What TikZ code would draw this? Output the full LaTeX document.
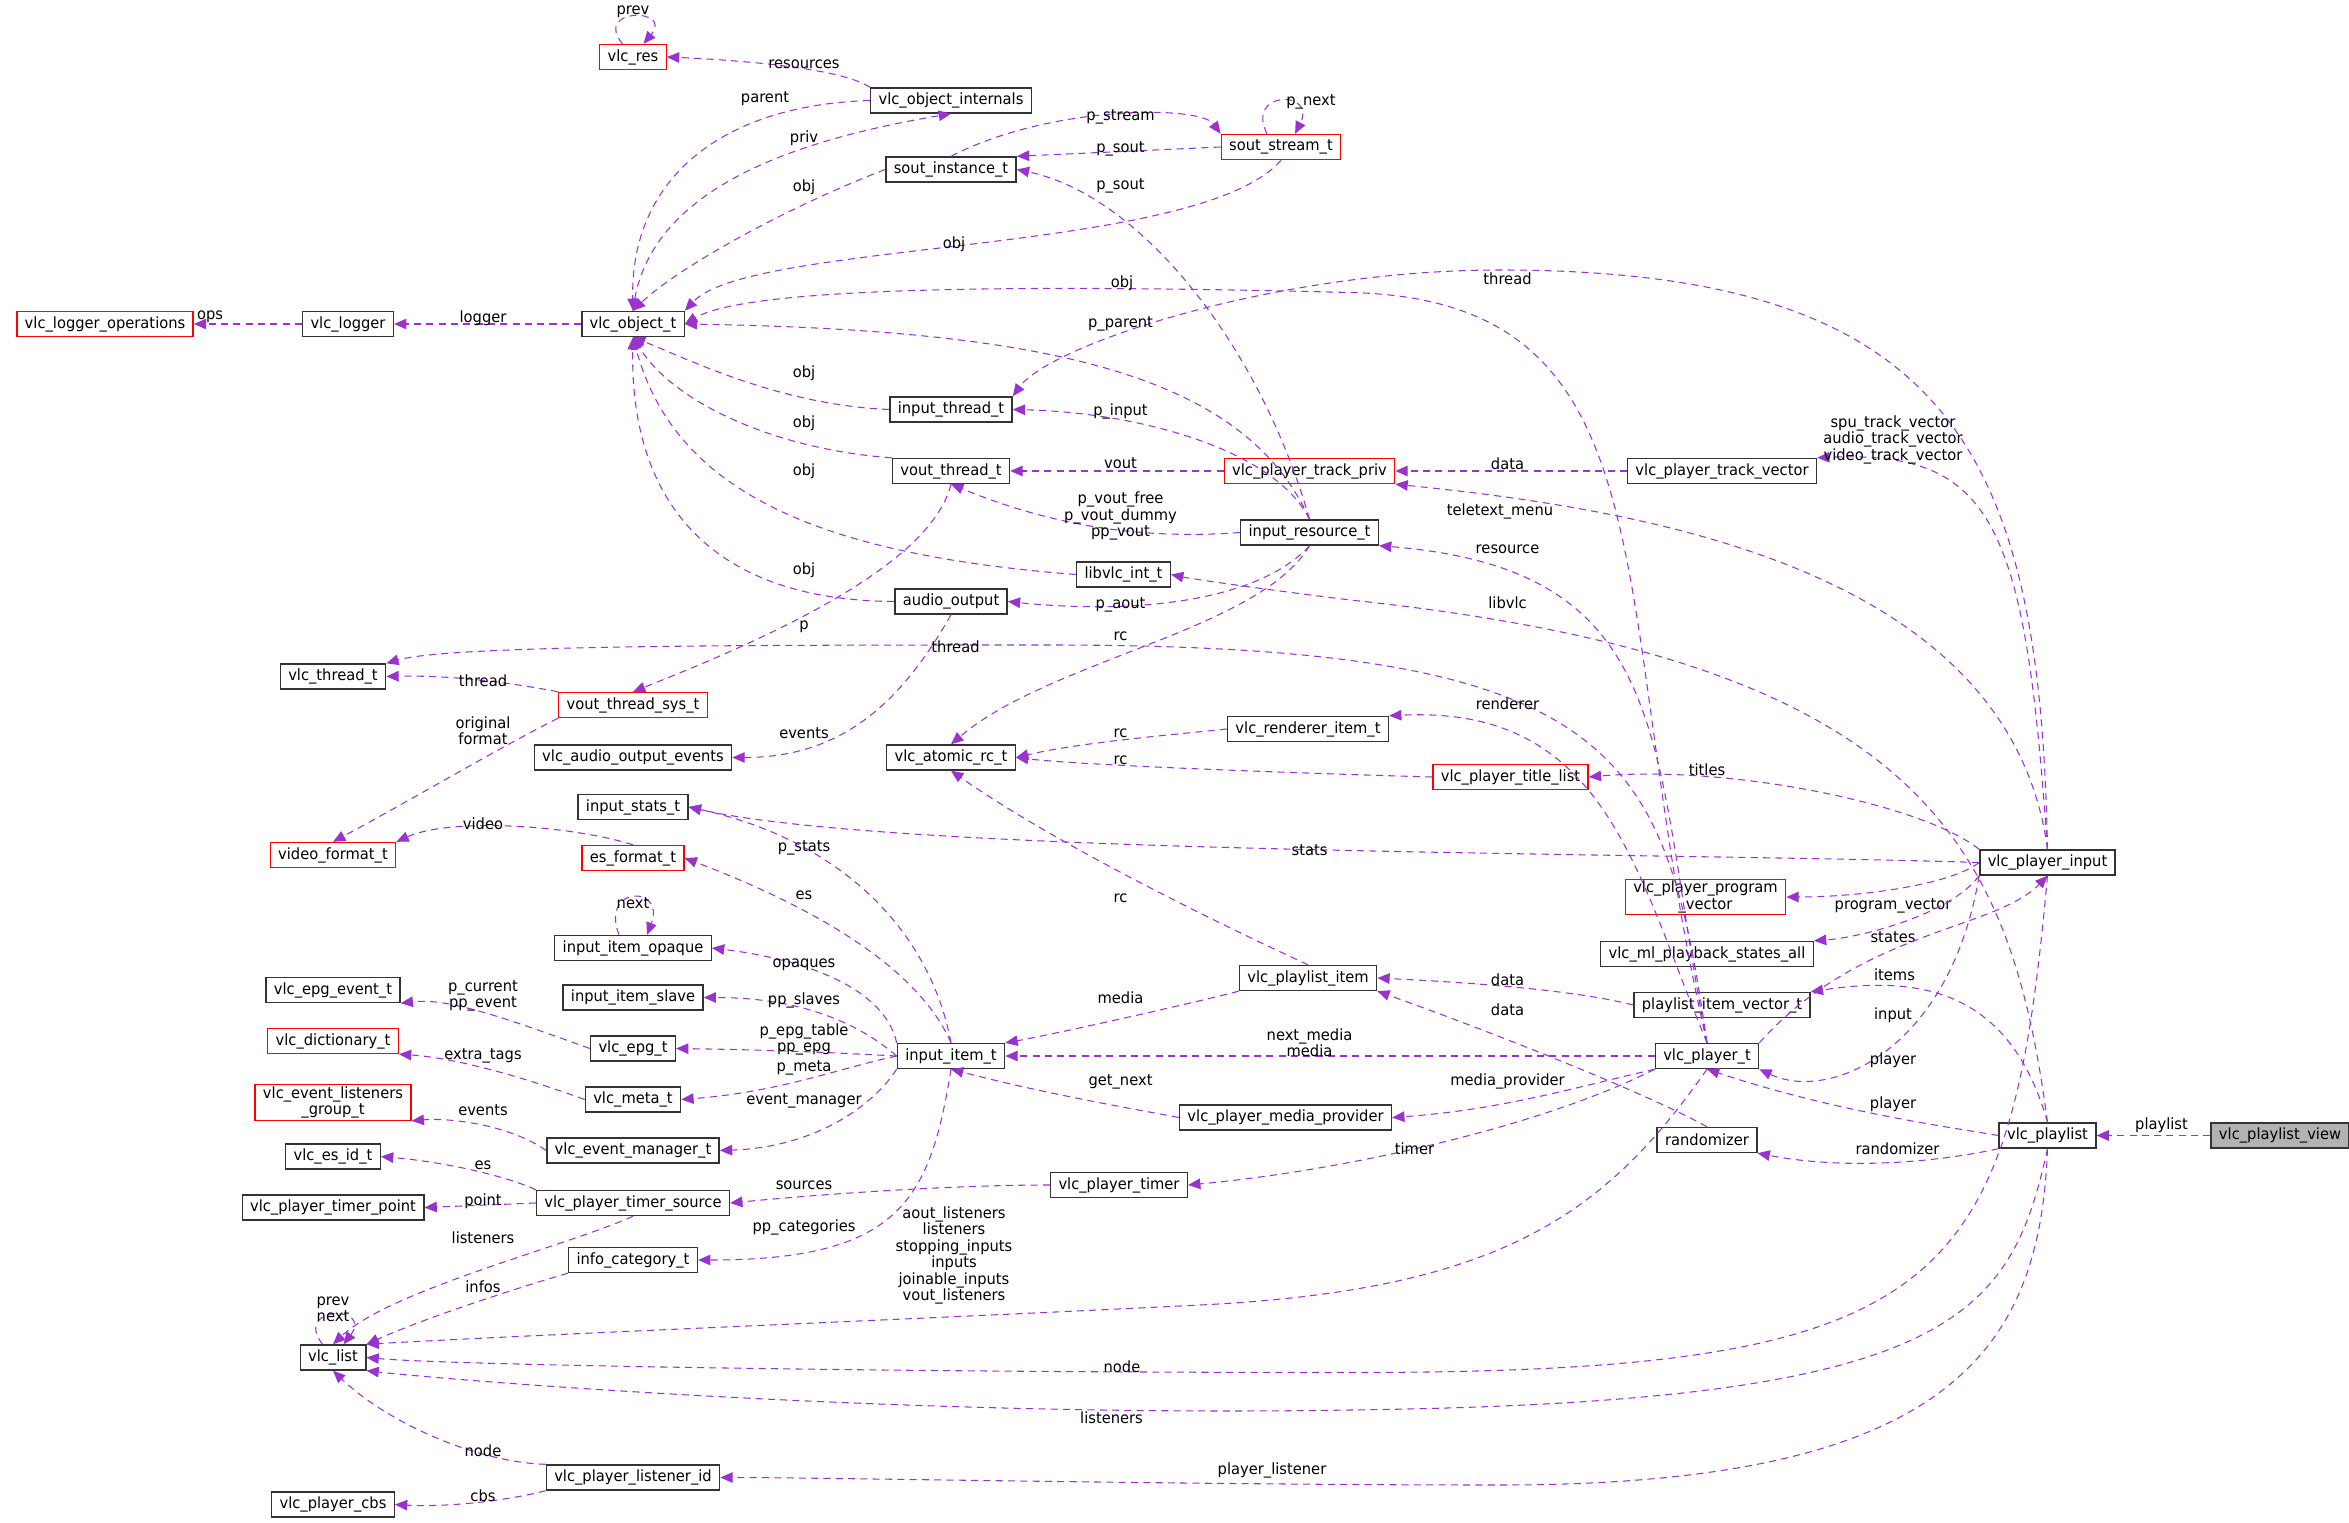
\documentclass[tikz,border=0pt]{standalone}
\usepackage{fontspec}
\setmainfont{DejaVu Sans}[FakeStretch=0.95]
\usetikzlibrary{arrows.meta}
\definecolor{edgecol}{HTML}{9A32CD}

\tikzset{
  cls/.style={rectangle, draw=black!80, fill=white, line width=0.8pt, minimum height=0.5cm, inner xsep=4.5pt, inner ysep=1pt, font=\fontsize{8.8}{9.4}\selectfont, align=center},
  redcls/.style={cls, draw=red},
  rootcls/.style={cls, fill=black!30},
  dep/.style={draw=edgecol, dashed, line width=0.6pt, dash pattern=on 4pt off 3pt, -{Triangle[length=7pt,width=6pt]}},
  lbl/.style={font=\fontsize{8.8}{9.4}\selectfont, align=center, inner sep=0pt}
}

\begin{document}
\begin{tikzpicture}[x=0.03cm, y=-0.03cm]
\useasboundingbox (0,0) rectangle (1566,1015);

% classes, right side
\node[rootcls] (view)    at (1520,757) {vlc\_playlist\_view};
\node[cls]     (plist)   at (1365,757) {vlc\_playlist};
\node[cls]     (pinput)  at (1365,575) {vlc\_player\_input};
\node[cls]     (player)  at (1138,704) {vlc\_player\_t};
\node[cls]     (rand)    at (1138,760) {randomizer};
\node[cls]     (itemvec) at (1148,670) {playlist\_item\_vector\_t};
\node[cls]     (states)  at (1138,636) {vlc\_ml\_playback\_states\_all};
\node[redcls]  (progvec) at (1137,598) {vlc\_player\_program\\\_vector};
\node[redcls]  (titles)  at (1007,518) {vlc\_player\_title\_list};
\node[cls]     (trackvec) at (1148,314) {vlc\_player\_track\_vector};

% middle
\node[redcls]  (trackpriv) at (873,314) {vlc\_player\_track\_priv};
\node[cls]     (inres)   at (873,355) {input\_resource\_t};
\node[cls]     (libvlc)  at (749,383) {libvlc\_int\_t};
\node[cls]     (rend)    at (872,486) {vlc\_renderer\_item\_t};
\node[cls]     (plitem)  at (872,652) {vlc\_playlist\_item};
\node[cls]     (mprov)   at (857,745) {vlc\_player\_media\_provider};
\node[cls]     (ptimer)  at (746,790) {vlc\_player\_timer};
\node[cls]     (item)    at (634,704) {input\_item\_t};
\node[cls]     (rc)      at (634,505) {vlc\_atomic\_rc\_t};
\node[cls]     (aout)    at (634,401) {audio\_output};
\node[cls]     (vout)    at (634,314) {vout\_thread\_t};
\node[cls]     (ithread) at (634,273) {input\_thread\_t};
\node[cls]     (sout)    at (634,113) {sout\_instance\_t};
\node[redcls]  (sstream) at (854,98)  {sout\_stream\_t};
\node[cls]     (internals) at (634,67) {vlc\_object\_internals};
\node[redcls]  (res)     at (422,38)  {vlc\_res};
\node[cls]     (object)  at (422,216) {vlc\_object\_t};

% left side
\node[cls]     (logger)  at (232,216) {vlc\_logger};
\node[redcls]  (logops)  at (70,216)  {vlc\_logger\_operations};
\node[cls]     (thread)  at (222,451) {vlc\_thread\_t};
\node[redcls]  (voutsys) at (422,470) {vout\_thread\_sys\_t};
\node[cls]     (aoutev)  at (422,505) {vlc\_audio\_output\_events};
\node[redcls]  (vfmt)    at (222,570) {video\_format\_t};
\node[cls]     (stats)   at (422,538) {input\_stats\_t};
\node[redcls]  (esfmt)   at (422,572) {es\_format\_t};
\node[cls]     (opaque)  at (422,632) {input\_item\_opaque};
\node[cls]     (slave)   at (422,665) {input\_item\_slave};
\node[cls]     (epg)     at (422,699) {vlc\_epg\_t};
\node[cls]     (meta)    at (422,733) {vlc\_meta\_t};
\node[cls]     (evman)   at (422,767) {vlc\_event\_manager\_t};
\node[cls]     (epgev)   at (222,660) {vlc\_epg\_event\_t};
\node[redcls]  (dict)    at (222,694) {vlc\_dictionary\_t};
\node[redcls]  (evgroup) at (222,735) {vlc\_event\_listeners\\\_group\_t};
\node[cls]     (esid)    at (222,771) {vlc\_es\_id\_t};
\node[cls]     (tpoint)  at (222,805) {vlc\_player\_timer\_point};
\node[cls]     (tsource) at (422,802) {vlc\_player\_timer\_source};
\node[cls]     (infocat) at (422,840) {info\_category\_t};
\node[cls]     (list)    at (222,905) {vlc\_list};
\node[cls]     (lid)     at (422,985) {vlc\_player\_listener\_id};
\node[cls]     (cbs)     at (222,1003) {vlc\_player\_cbs};

% members of vlc_playlist_view / vlc_playlist
\draw[dep] (view) -- (plist) node[lbl] at (1441,750) {playlist};
\draw[dep] (plist.south west) .. controls (1290,775) and (1230,780) .. (rand.south east) node[lbl] at (1265,766) {randomizer};
\draw[dep] (plist.west) .. controls (1290,750) and (1220,740) .. (player.south) node[lbl] at (1262,736) {player};
\draw[dep] (plist.north) .. controls (1340,660) and (1280,650) .. (itemvec.north east) node[lbl] at (1263,650) {items};
\draw[dep] (plist.south) .. controls (1340,880) and (1300,935) .. (900,940) .. controls (600,945) and (300,920) .. (list.south east) node[lbl] at (741,945) {listeners};
\draw[dep] (plist.south) .. controls (1360,900) and (1300,990) .. (1000,990) .. controls (800,990) and (550,985) .. (lid.east) node[lbl] at (848,980) {player\_listener};
\draw[dep] (plist.north) .. controls (1340,560) and (1280,440) .. (900,400) .. controls (820,390) and (790,385) .. (libvlc.east) node[lbl] at (1005,402) {libvlc};

% members of vlc_player_input
\draw[dep] (pinput.south west) .. controls (1300,700) and (1220,735) .. (player.south east) node[lbl] at (1262,707) {player};
\draw[dep] (pinput.north) .. controls (1350,350) and (1330,300) .. (trackvec.north east) node[lbl] at (1262,293) {spu\_track\_vector\\audio\_track\_vector\\video\_track\_vector};
\draw[dep] (pinput.north) .. controls (1340,380) and (1100,340) .. (trackpriv.south east) node[lbl] at (1000,341) {teletext\_menu};
\draw[dep] (pinput.north west) .. controls (1280,535) and (1150,510) .. (titles.east) node[lbl] at (1138,513) {titles};
\draw[dep] (pinput.west) .. controls (1300,590) and (1240,598) .. (progvec.east) node[lbl] at (1262,604) {program\_vector};
\draw[dep] (pinput.south west) .. controls (1300,610) and (1240,625) .. (states.north east) node[lbl] at (1262,625) {states};
\draw[dep] (pinput.west) .. controls (1100,568) and (600,570) .. (stats.east) node[lbl] at (873,567) {stats};
\draw[dep] (pinput.north) .. controls (1360,300) and (1300,180) .. (1000,180) .. controls (850,180) and (700,230) .. (ithread.north east) node[lbl] at (1005,186) {thread};
\draw[dep] (pinput.south) .. controls (1340,860) and (1300,915) .. (900,915) .. controls (600,915) and (300,910) .. (list.east) node[lbl] at (748,911) {node};

% members of vlc_player_t
\draw[dep] (player.north east) .. controls (1240,620) and (1330,620) .. (pinput.south) node[lbl] at (1262,677) {input};
\draw[dep] (player.north) .. controls (1070,400) and (1120,200) .. (900,195) .. controls (700,190) and (500,190) .. (object.east) node[lbl] at (748,189) {obj};
\draw[dep] (player.north) .. controls (1100,500) and (1120,380) .. (inres.south east) node[lbl] at (1005,366) {resource};
\draw[dep] (player.north) .. controls (1110,500) and (1080,430) .. (700,430) .. controls (500,430) and (300,430) .. (thread.north east) node[lbl] at (637,431) {thread};
\draw[dep] (player.north) .. controls (1090,580) and (1070,470) .. (rend.north east) node[lbl] at (1005,469) {renderer};
\draw[dep] (player.west) -- (item.east) node[lbl] at (873,695) {next\_media\\media};
\draw[dep] (player.south west) .. controls (1050,725) and (1000,740) .. (mprov.east) node[lbl] at (1005,721) {media\_provider};
\draw[dep] (player.south west) .. controls (1030,750) and (900,780) .. (ptimer.east) node[lbl] at (943,766) {timer};
\draw[dep] (player.south) .. controls (1070,810) and (1000,860) .. (800,870) .. controls (600,880) and (350,890) .. (list.north east) node[lbl] at (636,837) {aout\_listeners\\listeners\\stopping\_inputs\\inputs\\joinable\_inputs\\vout\_listeners};

% vector / priv / resource
\draw[dep] (itemvec.west) .. controls (1050,660) and (980,655) .. (plitem.east) node[lbl] at (1005,653) {data};
\draw[dep] (rand.north) .. controls (1100,730) and (1000,690) .. (plitem.south east) node[lbl] at (1005,673) {data};
\draw[dep] (trackvec) -- (trackpriv) node[lbl] at (1005,309) {data};
\draw[dep] (trackpriv) -- (vout) node[lbl] at (747,309) {vout};
\draw[dep] (inres.north) .. controls (830,250) and (700,220) .. (object.east) node[lbl] at (747,216) {p\_parent};
\draw[dep] (inres.north) .. controls (850,300) and (760,275) .. (ithread.east) node[lbl] at (747,274) {p\_input};
\draw[dep] (inres.west) .. controls (760,360) and (700,350) .. (vout.south) node[lbl] at (747,344) {p\_vout\_free\\p\_vout\_dummy\\pp\_vout};
\draw[dep] (inres.south) .. controls (840,400) and (760,410) .. (aout.east) node[lbl] at (747,403) {p\_aout};
\draw[dep] (inres.north) .. controls (840,230) and (760,130) .. (sout.east) node[lbl] at (747,124) {p\_sout};
\draw[dep] (inres.south) .. controls (840,420) and (700,440) .. (rc.north) node[lbl] at (747,424) {rc};
\draw[dep] (rend.west) .. controls (780,490) and (720,495) .. (rc.east) node[lbl] at (747,489) {rc};
\draw[dep] (titles.west) .. controls (850,515) and (720,510) .. (rc.east) node[lbl] at (747,507) {rc};
\draw[dep] (plitem.north) .. controls (800,610) and (700,560) .. (rc.south) node[lbl] at (747,599) {rc};
\draw[dep] (plitem.south west) .. controls (790,670) and (700,690) .. (item.north east) node[lbl] at (747,665) {media};
\draw[dep] (mprov.west) .. controls (760,740) and (700,730) .. (item.south) node[lbl] at (747,721) {get\_next};
\draw[dep] (ptimer.west) .. controls (640,790) and (560,795) .. (tsource.east) node[lbl] at (536,790) {sources};

% members of input_item_t
\draw[dep] (item.north) .. controls (620,620) and (560,560) .. (stats.east) node[lbl] at (536,565) {p\_stats};
\draw[dep] (item.north) .. controls (610,640) and (530,600) .. (esfmt.east) node[lbl] at (536,597) {es};
\draw[dep] (item.north west) .. controls (590,660) and (540,640) .. (opaque.east) node[lbl] at (536,643) {opaques};
\draw[dep] (item.west) .. controls (570,680) and (530,665) .. (slave.east) node[lbl] at (536,667) {pp\_slaves};
\draw[dep] (item.west) .. controls (560,702) and (520,700) .. (epg.east) node[lbl] at (536,693) {p\_epg\_table\\pp\_epg};
\draw[dep] (item.west) .. controls (560,712) and (520,728) .. (meta.east) node[lbl] at (536,712) {p\_meta};
\draw[dep] (item.south west) .. controls (580,740) and (540,765) .. (evman.east) node[lbl] at (536,734) {event\_manager};
\draw[dep] (item.south) .. controls (620,800) and (600,840) .. (infocat.east) node[lbl] at (536,818) {pp\_categories};
\draw[dep] ([xshift=-8pt]opaque.north) .. controls (400,590) and (444,590) .. ([xshift=8pt]opaque.north) node[lbl] at (422,602) {next};

% left column members
\draw[dep] (epg.west) .. controls (340,680) and (300,665) .. (epgev.south east) node[lbl] at (322,664) {p\_current\\pp\_event};
\draw[dep] (meta.west) .. controls (340,715) and (300,705) .. (dict.south east) node[lbl] at (322,704) {extra\_tags};
\draw[dep] (evman.west) .. controls (340,750) and (300,745) .. (evgroup.south east) node[lbl] at (322,740) {events};
\draw[dep] (tsource.north west) .. controls (340,785) and (300,775) .. (esid.east) node[lbl] at (322,777) {es};
\draw[dep] (tsource.west) -- (tpoint.east) node[lbl] at (322,801) {point};
\draw[dep] (tsource.south) .. controls (380,830) and (260,860) .. (list.north) node[lbl] at (322,825) {listeners};
\draw[dep] (infocat.south west) .. controls (340,860) and (280,880) .. (list.north east) node[lbl] at (322,858) {infos};
\draw[dep] ([xshift=-6pt]list.north) .. controls (195,870) and (249,870) .. ([xshift=6pt]list.north) node[lbl] at (222,873) {prev\\next};
\draw[dep] (lid.north west) .. controls (320,975) and (260,950) .. (list.south) node[lbl] at (322,967) {node};
\draw[dep] (lid.south west) .. controls (340,1000) and (300,1005) .. (cbs.east) node[lbl] at (322,997) {cbs};
\draw[dep] (esfmt.north) .. controls (380,550) and (300,545) .. (vfmt.north east) node[lbl] at (322,549) {video};
\draw[dep] (voutsys.south west) .. controls (330,500) and (280,530) .. (vfmt.north) node[lbl] at (322,487) {original\\format};
\draw[dep] (voutsys.north west) .. controls (340,455) and (300,450) .. (thread.east) node[lbl] at (322,454) {thread};
\draw[dep] (vout.south) .. controls (620,380) and (500,430) .. (voutsys.north) node[lbl] at (536,418) {p};
\draw[dep] (vout.north west) .. controls (520,300) and (450,270) .. (object.south) node[lbl] at (536,282) {obj};
\draw[dep] (ithread.west) .. controls (520,270) and (460,240) .. (object.south) node[lbl] at (536,249) {obj};
\draw[dep] (libvlc.west) .. controls (550,370) and (450,330) .. (object.south) node[lbl] at (536,314) {obj};
\draw[dep] (aout.west) .. controls (460,400) and (420,320) .. (object.south) node[lbl] at (536,380) {obj};
\draw[dep] (aout.south) .. controls (600,470) and (560,505) .. (aoutev.east) node[lbl] at (536,489) {events};

% vlc_object_t family
\draw[dep] (sout.west) .. controls (520,140) and (450,180) .. (object.north) node[lbl] at (536,125) {obj};
\draw[dep] (sout.north) .. controls (700,70) and (800,70) .. (sstream.north west) node[lbl] at (747,78) {p\_stream};
\draw[dep] (sstream.west) -- (sout.north east) node[lbl] at (747,99) {p\_sout};
\draw[dep] (sstream.south) .. controls (800,170) and (500,160) .. (object.north east) node[lbl] at (636,163) {obj};
\draw[dep] ([xshift=-8pt]sstream.north) .. controls (830,60) and (878,60) .. ([xshift=8pt]sstream.north) node[lbl] at (874,68) {p\_next};
\draw[dep] (internals.west) .. controls (480,70) and (420,120) .. (object.north) node[lbl] at (510,66) {parent};
\draw[dep] (object.north) .. controls (430,130) and (520,95) .. (internals.south) node[lbl] at (536,92) {priv};
\draw[dep] (internals.north west) .. controls (560,45) and (490,40) .. (res.east) node[lbl] at (536,43) {resources};
\draw[dep] ([xshift=-6pt]res.north) .. controls (395,5) and (449,5) .. ([xshift=6pt]res.north) node[lbl] at (422,8) {prev};
\draw[dep] (object) -- (logger) node[lbl] at (322,212) {logger};
\draw[dep] (logger) -- (logops) node[lbl] at (140,211) {ops};
\end{tikzpicture}
\end{document}
